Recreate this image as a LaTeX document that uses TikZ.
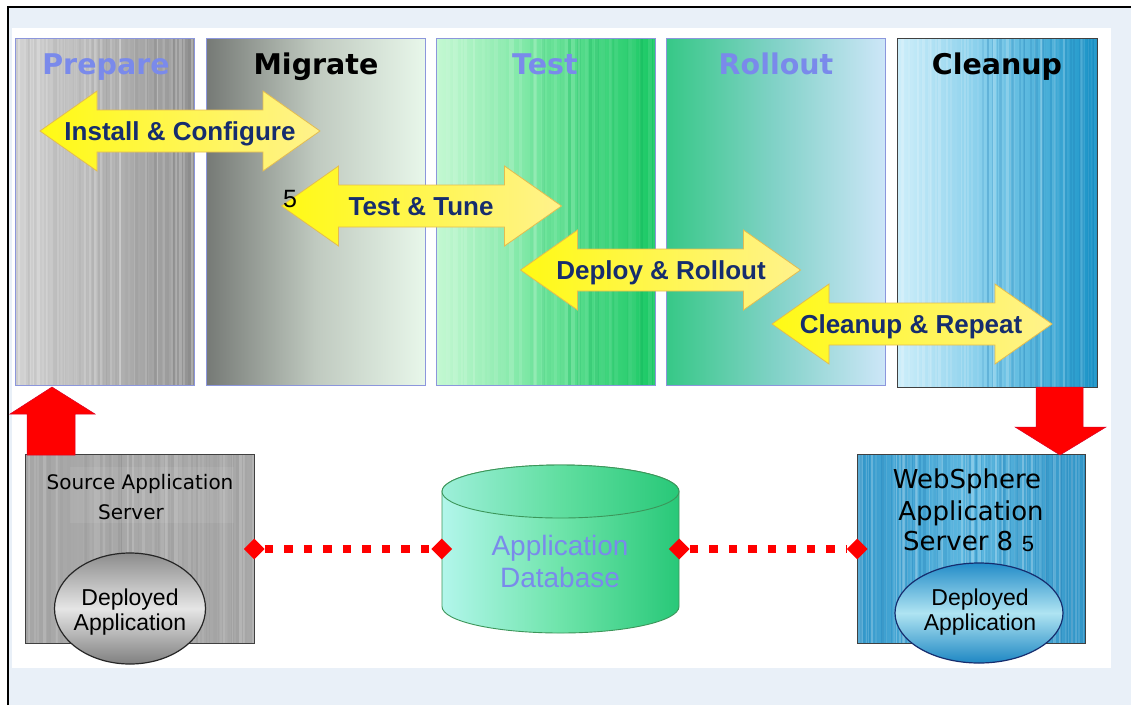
\documentclass[tikz,border=0pt]{standalone}
\usepackage{fontspec}
\usetikzlibrary{shapes.geometric,calc}
\newfontfamily\djv{DejaVu Sans}
\newfontfamily\lib{Liberation Sans}

\definecolor{bgblue}{RGB}{233,240,248}
\definecolor{edgeblue}{RGB}{140,150,220}
\definecolor{peri}{RGB}{122,138,235}
\definecolor{navy}{RGB}{22,45,110}
\definecolor{yleft}{RGB}{255,250,20}
\definecolor{yright}{RGB}{255,242,140}
\definecolor{yedge}{RGB}{228,188,80}
\definecolor{prepL}{RGB}{210,210,210}
\definecolor{prepM}{RGB}{182,182,182}
\definecolor{prepR}{RGB}{145,145,145}
\definecolor{migL}{RGB}{118,122,118}
\definecolor{migM}{RGB}{192,202,192}
\definecolor{migR}{RGB}{232,247,234}
\definecolor{testL}{RGB}{195,248,210}
\definecolor{testM}{RGB}{110,228,155}
\definecolor{testR}{RGB}{25,200,100}
\definecolor{rollL}{RGB}{55,200,135}
\definecolor{rollM}{RGB}{130,210,200}
\definecolor{rollR}{RGB}{205,230,248}
\definecolor{cleanL}{RGB}{205,238,250}
\definecolor{cleanM}{RGB}{120,200,232}
\definecolor{cleanR}{RGB}{25,148,200}
\definecolor{srcgray}{RGB}{168,168,168}
\definecolor{wsL}{RGB}{55,155,205}
\definecolor{wsM}{RGB}{95,185,225}
\definecolor{wsR}{RGB}{50,150,200}
\definecolor{dbL}{RGB}{178,246,235}
\definecolor{dbM}{RGB}{110,228,170}
\definecolor{dbR}{RGB}{40,200,120}
\definecolor{dbedge}{RGB}{60,150,90}
\definecolor{darkgreen}{RGB}{0,165,75}
\definecolor{darkblue}{RGB}{10,110,170}

% vertical texture lines: x0 x1 y0 y1 colour max-opacity spacing
\newcommand\vstripes[7]{%
  \begin{scope}
    \clip (#1,#3) rectangle (#2,#4);
    \pgfmathsetmacro\nst{int((#2-#1)/#7)}
    \foreach \k in {0,...,\nst}{
      \pgfmathsetmacro\sx{#1+\k*#7+rnd*#7}
      \pgfmathsetmacro\so{rnd*#6}
      \pgfmathsetmacro\sw{0.3*#7+rnd*0.4*#7}
      \draw[#5, opacity=\so, line width=\sw pt] (\sx,#3) -- (\sx,#4);
    }
  \end{scope}}

\tikzset{
  yarrow/.pic={
    \path[yfill] (-140,0) -- (-83,-40) -- (-83,-21) -- (83,-21) -- (83,-40)
      -- (140,0) -- (83,40) -- (83,21) -- (-83,21) -- (-83,40) -- cycle;
  }
}

\begin{document}
\begin{tikzpicture}[x=1pt,y=-1pt,
  phasebox/.style={rectangle, inner sep=0pt, minimum height=346pt},
  phaseline/.style={draw=edgeblue, line width=0.9pt},
  titletext/.style={font=\djv\bfseries\fontsize{28.5}{30}\selectfont, anchor=base, inner sep=0pt},
  arrowlabel/.style={font=\lib\bfseries\fontsize{26}{28}\selectfont, text=navy, anchor=base, inner sep=0pt},
  yfill/.style={draw=yedge, line width=0.8pt, left color=yleft, right color=yright},
  redfill/.style={fill=red, draw=red!85!blue, line width=0.5pt},
  boxline/.style={draw=black!75, line width=1.2pt},
  srctext/.style={font=\djv\fontsize{20}{22}\selectfont, anchor=base, inner sep=0pt},
  wstext/.style={font=\djv\fontsize{26}{28}\selectfont, anchor=base, inner sep=0pt},
  elltext/.style={font=\lib\fontsize{23}{25}\selectfont, anchor=base, inner sep=0pt},
  dbtext/.style={font=\lib\fontsize{28}{30}\selectfont, text=peri, anchor=base, inner sep=0pt},
  digit/.style={font=\lib\fontsize{#1}{#1}\selectfont, anchor=base, inner sep=0pt},
  diam/.style={diamond, fill=red, inner sep=0pt, minimum width=21pt, minimum height=21pt},
  reddots/.style={draw=red, line width=8.5pt, dash pattern=on 8.5pt off 11pt}
]
\pgfmathsetseed{11}
\useasboundingbox (0,0) rectangle (1131,705);

% page background and frame
\fill[bgblue] (9,8) rectangle (1131,705);
\fill[white] (12,28) rectangle (1111,668);
\draw[black, line width=2pt] (8,705) -- (8,7) -- (1131,7);

% ---- phase columns ----
\node[phasebox, minimum width=178pt, left color=prepL, right color=prepR, middle color=prepM] (prep) at (105,212) {};
\vstripes{16}{194}{39}{385}{white}{0.25}{4}
\vstripes{16}{194}{39}{385}{black}{0.05}{6}
\draw[phaseline] (prep.north west) rectangle (prep.south east);

\node[phasebox, minimum width=218pt, left color=migL, right color=migR, middle color=migM] (mig) at (316,212) {};
\draw[phaseline] (mig.north west) rectangle (mig.south east);

\node[phasebox, minimum width=218pt, left color=testL, right color=testR, middle color=testM] (test) at (546,212) {};
\vstripes{437}{655}{39}{385}{white}{0.18}{7}
\vstripes{530}{655}{39}{385}{darkgreen}{0.22}{7}
\draw[phaseline] (test.north west) rectangle (test.south east);

\node[phasebox, minimum width=218pt, left color=rollL, right color=rollR, middle color=rollM] (roll) at (776,212) {};
\draw[phaseline] (roll.north west) rectangle (roll.south east);

\node[phasebox, minimum width=199pt, minimum height=348pt, left color=cleanL, right color=cleanR, middle color=cleanM] (clean) at (997.5,213) {};
\vstripes{898}{1097}{39}{387}{white}{0.2}{4}
\vstripes{980}{1097}{39}{387}{darkblue}{0.22}{4}
\draw[draw=black!75, line width=1.2pt] (clean.north west) rectangle (clean.south east);

% ---- phase titles ----
\node[titletext, text=peri] (tprep) at (106,74) {Prepare};
\node[titletext] (tmig) at (316,74) {Migrate};
\node[titletext, text=peri] (ttest) at (545,74) {Test};
\node[titletext, text=peri] (troll) at (776,74) {Rollout};
\node[titletext] (tclean) at (997,74) {Cleanup};

% ---- activity arrows ----
\pic at (180,131) {yarrow};
\node[arrowlabel] (lic) at (180,140) {Install \& Configure};
\pic at (421.5,206) {yarrow};
\node[arrowlabel] (ltt) at (421,215) {Test \& Tune};
\node[digit=25] (five1) at (290,207) {5};
\pic at (660.5,270) {yarrow};
\node[arrowlabel] (ldr) at (661,279) {Deploy \& Rollout};
\pic at (912,324) {yarrow};
\node[arrowlabel] (lcr) at (911,333) {Cleanup \& Repeat};

% ---- source application server ----
\node[rectangle, inner sep=0pt, minimum width=228pt, minimum height=188pt, fill=srcgray] (src) at (140,549) {};
\vstripes{26}{254}{455}{643}{white}{0.18}{5}
\vstripes{26}{254}{455}{643}{black}{0.05}{6}
\fill[white, opacity=0.07] (70,467) rectangle (234,523);
\draw[boxline] (src.north west) rectangle (src.south east);
\node[srctext] (srct1) at (140,489) {Source Application};
\node[srctext] (srct2) at (131,519) {Server};
\node[ellipse, draw=black!85, line width=1.2pt, minimum width=151pt, minimum height=111pt,
      top color=black!45, bottom color=black!50, middle color=black!10] (srcapp) at (130,608.5) {};
\node[elltext] (sa1) at (130,605) {Deployed};
\node[elltext] (sa2) at (130,630) {Application};

% ---- WebSphere server ----
\node[rectangle, inner sep=0pt, minimum width=227.5pt, minimum height=188pt,
      left color=wsL, right color=wsR, middle color=wsM] (ws) at (971.25,549) {};
\vstripes{857.5}{1085}{455}{643}{white}{0.28}{3.5}
\vstripes{857.5}{1085}{455}{643}{darkblue}{0.25}{3.5}
\draw[boxline] (ws.north west) rectangle (ws.south east);
\node[wstext] (wst1) at (967,488) {WebSphere};
\node[wstext] (wst2) at (971,520) {Application};
\node[wstext, anchor=base west] (wst3) at (903,550) {Server 8};
\node[digit=22] (five2) at (1028,551) {5};
\node[ellipse, draw=navy, line width=1.2pt, minimum width=168pt, minimum height=100pt,
      top color={rgb,255:red,35;green,140;blue,200}, bottom color={rgb,255:red,30;green,135;blue,195},
      middle color={rgb,255:red,175;green,228;blue,242}] (wsapp) at (979,613) {};
\node[elltext] (wa1) at (980,605) {Deployed};
\node[elltext] (wa2) at (980,630) {Application};

% ---- application database ----
\path[draw=dbedge, line width=0.9pt, left color=dbL, right color=dbR, middle color=dbM]
  (442,491.5) -- (442,606.5)
  arc[start angle=180, end angle=0, x radius=118.5, y radius=26.5]
  -- (679,491.5)
  arc[start angle=0, end angle=-180, x radius=118.5, y radius=26.5] -- cycle;
\path[draw=dbedge, line width=0.9pt, left color=dbL!85!dbR, right color=dbR, middle color=dbM!80!dbR]
  (560.5,491.5) ellipse[x radius=118.5, y radius=26.5];
\node[inner sep=0pt, minimum width=237pt, minimum height=115pt] (db) at (560.5,549) {};
\node[dbtext] (dbt1) at (560,555) {Application};
\node[dbtext] (dbt2) at (560,587) {Database};

% ---- red migration arrows ----
\path[redfill] (27,455) -- (27,414) -- (10,414) -- (52,387) -- (95,414) -- (75,414) -- (75,455) -- cycle;
\path[redfill] (1036,387) -- (1036,427) -- (1015,427) -- (1060,455) -- (1106,427) -- (1083,427) -- (1083,387) -- cycle;

% ---- data connections ----
\node[diam] (d1) at (src.east) {};
\node[diam] (d2) at (db.west) {};
\node[diam] (d3) at (db.east) {};
\node[diam] (d4) at (ws.west) {};
\draw[reddots] (d1) -- (d2);
\draw[reddots] (d3) -- (d4);
\end{tikzpicture}
\end{document}
